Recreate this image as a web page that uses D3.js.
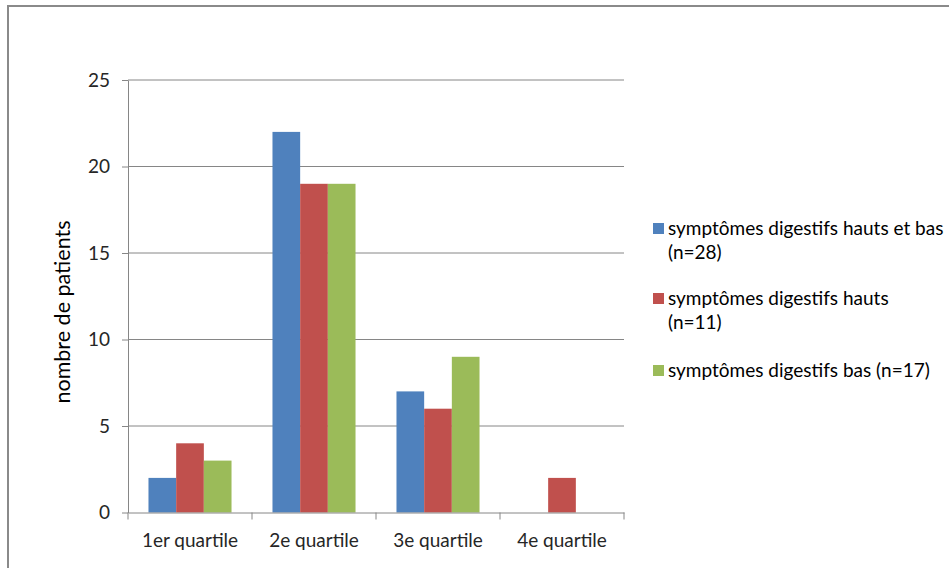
<!DOCTYPE html>
<html>
<head>
<meta charset="utf-8">
<script src="https://cdn.jsdelivr.net/npm/d3@7"></script>
<style>
  html, body { margin: 0; padding: 0; background: #fff; }
  svg { display: block; font-family: Lato, "Open Sans", sans-serif; }
</style>
</head>
<body>
<svg id="chart" width="949" height="568"></svg>
<script>
const categories = ["1er quartile", "2e quartile", "3e quartile", "4e quartile"];
const seriesNames = [
  ["symptômes digestifs hauts et bas", "(n=28)"],
  ["symptômes digestifs hauts", "(n=11)"],
  ["symptômes digestifs bas (n=17)"]
];
const hautsEtBas = [2, 22, 7, 0];
const hauts = [4, 19, 6, 2];
const bas = [3, 19, 9, 0];
const yTicks = [0, 5, 10, 15, 20, 25];
const colors = ["#4F81BD", "#C0504D", "#9BBB59"];
const seriesValues = [hautsEtBas, hauts, bas];

const FS = 19;
const svg = d3.select("#chart");

// outer frame
svg.append("path")
  .attr("d", "M8,568 V6 H949")
  .attr("fill", "none")
  .attr("stroke", "#8a8a8a")
  .attr("stroke-width", 2);

const plot = { left: 128, right: 624, top: 80, bottom: 512.5 };

const x0 = d3.scaleBand().domain(categories).range([plot.left, plot.right]);
const x1 = d3.scaleBand().domain(d3.range(seriesValues.length))
  .range([0, x0.bandwidth()]).paddingOuter(0.74).paddingInner(0);
const y = d3.scaleLinear().domain([0, 25]).range([plot.bottom, plot.top]);

// horizontal gridlines
svg.append("g").selectAll("line").data(yTicks.filter(t => t > 0)).join("line")
  .attr("x1", plot.left).attr("x2", plot.right)
  .attr("y1", d => y(d)).attr("y2", d => y(d))
  .attr("stroke", "#868686").attr("stroke-width", 1);

// bars
const rows = [];
categories.forEach((c, i) => seriesValues.forEach((s, j) => rows.push({ c, j, v: s[i] })));
svg.append("g").selectAll("rect").data(rows.filter(d => d.v > 0)).join("rect")
  .attr("x", d => x0(d.c) + x1(d.j))
  .attr("width", x1.bandwidth())
  .attr("y", d => y(d.v))
  .attr("height", d => y(0) - y(d.v))
  .attr("fill", d => colors[d.j]);

// y axis
const yAxis = svg.append("g")
  .attr("transform", `translate(${plot.left},0)`)
  .call(d3.axisLeft(y).tickValues(yTicks).tickSize(6).tickSizeOuter(0).tickPadding(12));
yAxis.attr("font-size", FS).attr("font-family", "Lato, sans-serif");
yAxis.select(".domain").attr("stroke", "#868686");
yAxis.selectAll(".tick line").attr("stroke", "#868686");
yAxis.selectAll(".tick text").attr("fill", "#262626");

// x axis
const xAxis = svg.append("g")
  .attr("transform", `translate(0,${plot.bottom})`)
  .call(d3.axisBottom(x0).tickSize(0).tickPadding(21));
xAxis.attr("font-size", FS).attr("font-family", "Lato, sans-serif");
xAxis.select(".domain").attr("stroke", "#868686");
xAxis.selectAll(".tick text").attr("fill", "#262626");
// category separator ticks
svg.append("g").selectAll("line")
  .data(categories.map(c => x0(c)).concat([plot.right])).join("line")
  .attr("x1", d => d).attr("x2", d => d)
  .attr("y1", plot.bottom).attr("y2", plot.bottom + 7)
  .attr("stroke", "#868686");

// y axis title
svg.append("text")
  .attr("transform", "translate(62,312) rotate(-90)")
  .attr("text-anchor", "middle")
  .attr("dy", "0.35em")
  .attr("font-size", 21.5).attr("fill", "#000")
  .text("nombre de patients");

// legend
const legendY = [228, 298, 370];
const legend = svg.append("g");
seriesNames.forEach((lines, i) => {
  legend.append("rect")
    .attr("x", 653).attr("y", legendY[i] - 5)
    .attr("width", 11).attr("height", 11)
    .attr("fill", colors[i]);
  lines.forEach((t, k) => {
    legend.append("text")
      .attr("x", 668).attr("y", legendY[i] + k * 24)
      .attr("dy", "0.35em")
      .attr("font-size", FS).attr("fill", "#000")
      .text(t);
  });
});
</script>
</body>
</html>
